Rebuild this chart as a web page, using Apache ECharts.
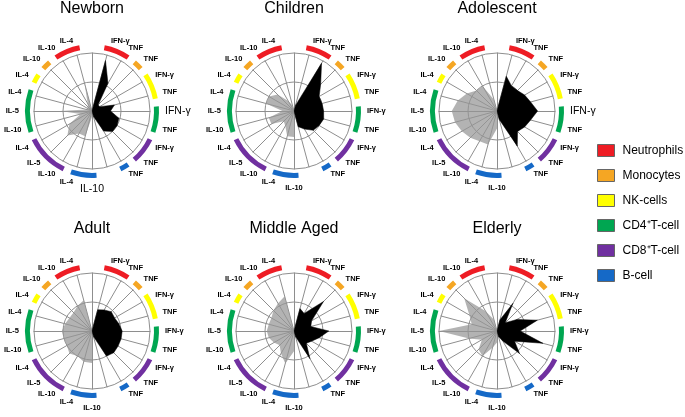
<!DOCTYPE html>
<html>
<head>
<meta charset="utf-8">
<script src="https://cdn.jsdelivr.net/npm/echarts@6.0.0/dist/echarts.min.js"></script>
<style>
  html, body { margin: 0; padding: 0; background: #fff; }
  #chart { width: 685px; height: 417px; }
</style>
</head>
<body>
<div id="chart"></div>
<script>
// age groups, one radial plot each
const ages = ['Newborn', 'Children', 'Adolescent', 'Adult', 'Middle Aged', 'Elderly'];

// 24 spokes, clockwise from 12 o'clock, 15 deg apart
const spokeLabels = ['', 'IFN-γ', 'TNF', 'TNF', 'IFN-γ', 'TNF', 'IFN-γ', 'TNF', 'IFN-γ', 'TNF', 'TNF', '',
  'IL-10', 'IL-4', 'IL-10', 'IL-5', 'IL-4', 'IL-10', 'IL-5', 'IL-4', 'IL-4', 'IL-10', 'IL-10', 'IL-4'];
// which cell type each spoke belongs to (-1 = none)
const spokeCell = [-1, 0, 0, 1, 2, 2, 3, 3, 4, 4, 5, -1, 5, 5, 4, 4, 4, 3, 3, 3, 2, 1, 0, 0];

const cellTypes = ['Neutrophils', 'Monocytes', 'NK-cells', 'CD4⁺T-cell', 'CD8⁺T-cell', 'B-cell'];
const cellColors = ['#ee1c24', '#f5a623', '#ffff00', '#00a651', '#7030a0', '#1569c7'];

// pro-inflammatory (black), spokes 0..11
const newbornPro    = [0, 90, 55, 15, 15, 40, 32, 48, 50, 50, 40, 10];
const childrenPro   = [0, 10, 95, 65, 50, 50, 51, 53, 50, 47, 36, 28];
const adolescentPro = [0, 62, 50, 50, 55, 60, 70, 60, 55, 50, 70, 15];
const adultPro      = [0, 38, 42, 47, 45, 48, 52, 52, 52, 53, 50, 10];
const middlePro     = [0, 40, 35, 72, 35, 30, 60, 45, 35, 30, 55, 10];
const elderlyPro    = [0, 20, 55, 20, 40, 72, 40, 82, 35, 55, 20, 10];

// anti-inflammatory (grey), spokes 12..23
const newbornAnti    = [10, 45, 45, 60, 45, 20, 55, 10, 10, 10, 15, 50];
const childrenAnti   = [45, 45, 30, 25, 45, 45, 20, 50, 50, 40, 20, 10];
const adolescentAnti = [30, 60, 60, 65, 70, 75, 78, 70, 60, 50, 50, 20];
const adultAnti      = [55, 55, 50, 55, 50, 50, 52, 48, 45, 45, 50, 55];
const middleAnti     = [35, 58, 45, 35, 40, 45, 47, 45, 45, 50, 55, 62];
const elderlyAnti    = [20, 30, 50, 45, 30, 50, 100, 45, 55, 80, 40, 20];

const proData = [newbornPro, childrenPro, adolescentPro, adultPro, middlePro, elderlyPro];
const antiData = [newbornAnti, childrenAnti, adolescentAnti, adultAnti, middleAnti, elderlyAnti];

// spokes whose label is printed larger
const bigLabelSpokes = [[6, 12], [], [6], [], [], []];

// layout
const colX = [92, 294, 497];
const rowY = [111, 331];
const titleTop = [1, 221];
const R = 58;
const FONT = '"Liberation Sans", Arial, sans-serif';

const zeros = new Array(12).fill(0);
// radar goes counter-clockwise, data is written clockwise
function ccw(arr) { return [arr[0]].concat(arr.slice(1).reverse()); }

function ringSegments() {
  const gap = { value: 0, name: '', itemStyle: { color: 'rgba(0,0,0,0)' } };
  const segs = [];
  let pos = 0, k = 0;
  while (k < 24) {
    const c = spokeCell[k];
    if (c < 0) { k++; continue; }
    let j = k;
    while (j + 1 < 24 && spokeCell[j + 1] === c) j++;
    const a0 = k * 15 - 4, a1 = j * 15 + 4;
    segs.push(Object.assign({}, gap, { value: a0 - pos }));
    segs.push({ value: a1 - a0, name: cellTypes[c], itemStyle: { color: cellColors[c] } });
    pos = a1;
    k = j + 1;
  }
  segs.push(Object.assign({}, gap, { value: 360 - pos }));
  return segs;
}

const radars = [], series = [], titles = [];
ages.forEach((age, i) => {
  const cx = colX[i % 3], cy = rowY[Math.floor(i / 3)];
  const ind = spokeLabels.map((n, k) => ({ name: n, max: 100, big: bigLabelSpokes[i].indexOf(k) >= 0 }));
  radars.push({
    center: [cx, cy],
    radius: R,
    startAngle: 90,
    shape: 'circle',
    splitNumber: 2,
    indicator: ccw(ind),
    axisNameGap: 15,
    axisName: {
      color: '#000',
      fontSize: 7.5,
      fontWeight: 'bold',
      fontFamily: FONT,
      formatter: (name, o) => (o && o.big ? '{b|' + name + '}' : name),
      rich: { b: { fontSize: 10.5, fontWeight: 'normal', fontFamily: FONT, color: '#000' } }
    },
    axisLine: { lineStyle: { color: '#8e8e8e', width: 1 } },
    splitLine: { lineStyle: { color: '#8e8e8e', width: 1 } },
    splitArea: { show: false }
  });
  series.push({
    type: 'radar',
    radarIndex: i,
    symbol: 'none',
    silent: true,
    data: [
      {
        value: ccw(proData[i].concat(zeros)),
        lineStyle: { color: '#000', width: 0.5 },
        areaStyle: { color: '#000', opacity: 1 }
      },
      {
        value: ccw(zeros.concat(antiData[i])),
        lineStyle: { width: 0 },
        areaStyle: { color: 'rgb(150,150,150)', opacity: 0.72 }
      }
    ]
  });
  series.push({
    type: 'pie',
    center: [cx, cy],
    radius: [62, 67],
    startAngle: 90,
    clockwise: true,
    silent: true,
    label: { show: false },
    labelLine: { show: false },
    itemStyle: { borderWidth: 0 },
    emphasis: { disabled: true },
    data: ringSegments()
  });
  titles.push({
    text: age,
    left: cx,
    top: titleTop[Math.floor(i / 3)],
    textAlign: 'center',
    padding: 0,
    textStyle: { fontSize: 16, fontWeight: 'normal', fontFamily: FONT, color: '#000' }
  });
});

const chart = echarts.init(document.getElementById('chart'));
chart.setOption({
  animation: false,
  title: titles,
  radar: radars,
  legend: {
    orient: 'vertical',
    left: 597,
    top: 144,
    padding: 0,
    itemWidth: 17,
    itemHeight: 12,
    itemGap: 12,
    icon: 'rect',
    selectedMode: false,
    data: cellTypes,
    itemStyle: { borderColor: '#666', borderWidth: 1 },
    textStyle: { fontSize: 12, fontFamily: FONT, color: '#000', padding: [0, 0, 0, 3] }
  },
  series: series
});
</script>
</body>
</html>
